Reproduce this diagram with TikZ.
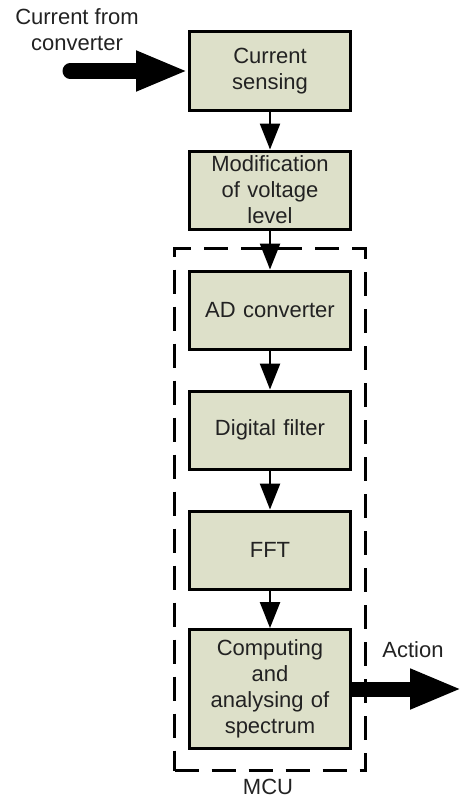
\documentclass[tikz,border=0pt]{standalone}
\usepackage{fontspec}
\setmainfont{Liberation Sans}
\usetikzlibrary{arrows.meta}
\definecolor{boxfill}{HTML}{DDE0C9}
\definecolor{txt}{HTML}{222222}
\tikzset{
  blockbox/.style={draw=black, fill=boxfill, line width=3pt, minimum width=161pt,
    minimum height=78pt, inner sep=0pt, text width=155pt, align=center,
    font=\fontsize{22}{26}\selectfont, text=txt},
  lbl/.style={inner sep=0pt, align=center, font=\fontsize{22}{26}\selectfont, text=txt},
  flow/.style={line width=2.5pt, -{Triangle[length=26pt,width=20pt]}},
  bigflow/.style={line width=15pt, line join=miter, -{Triangle[length=52pt,width=37pt]}},
  mcubox/.style={draw=black, line width=3pt, dash pattern=on 24pt off 13pt,
    minimum width=191pt, minimum height=522pt, inner sep=0pt}
}
\begin{document}
\begin{tikzpicture}[x=1pt,y=-1pt]
\useasboundingbox (0,0) rectangle (462,800);
\node[mcubox] (mcu) at (270,509.5) {};
\node[blockbox, minimum height=79pt] (cs) at (270,71) {Current\\sensing};
\node[blockbox] (mod) at (270,190) {Modification\\of voltage\\level};
\node[blockbox] (ad) at (270,310) {AD converter};
\node[blockbox] (df) at (270,430) {Digital filter};
\node[blockbox] (fft) at (270,550) {FFT};
\node[blockbox, minimum height=119pt] (comp) at (270,689) {Computing\\and\\analysing of\\spectrum};
\node[lbl] (inlbl) at (77,30) {Current from\\converter};
\node[lbl] (actlbl) at (413,650) {Action};
\node[lbl] (mculbl) at (268,787) {MCU};
\coordinate (in) at (70,71);
\coordinate (out) at (462,689);
\draw[bigflow, line cap=round] (in) -- (cs.west);
\draw[bigflow] (comp.east) -- (out);
\draw[flow] (cs) -- (mod);
\draw[flow] (mod) -- (ad);
\draw[flow] (ad) -- (df);
\draw[flow] (df) -- (fft);
\draw[flow] (fft) -- (comp);
\end{tikzpicture}
\end{document}
